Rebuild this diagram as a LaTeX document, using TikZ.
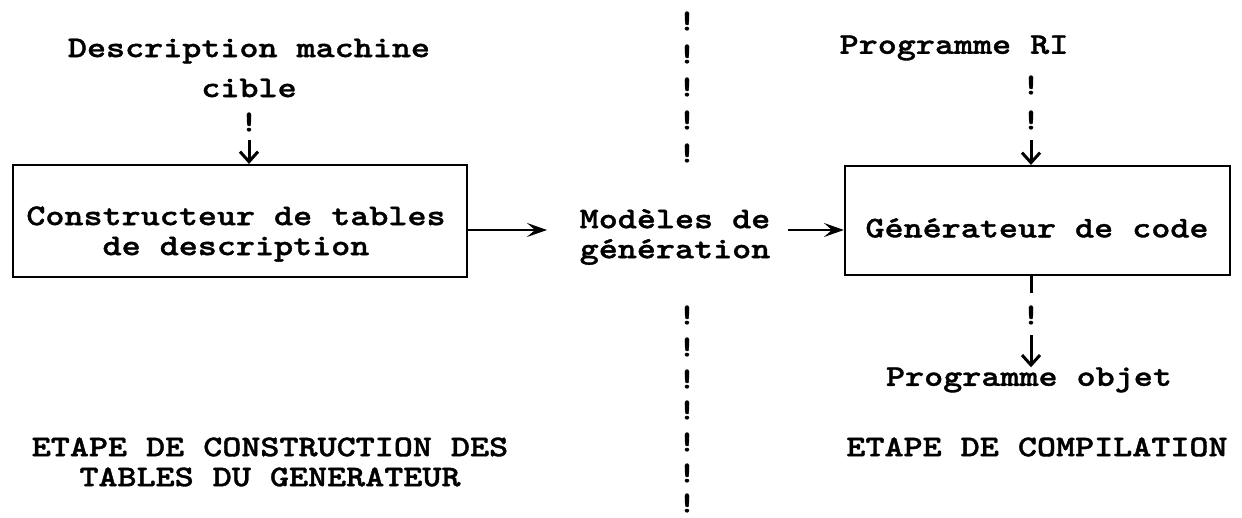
\documentclass[tikz,border=0pt]{standalone}
\usepackage{fontspec}
\newfontfamily\typer{lmmonolt10-bold.otf}[FakeStretch=1.21,FakeBold=1.2]
\usetikzlibrary{arrows.meta}

\begin{document}
\begin{tikzpicture}[x=1pt,y=-1pt,
  txt/.style={font=\typer\fontsize{30}{30}\selectfont, inner sep=0, align=center},
  bang/.style={txt},
  stage/.style={draw, line width=2.2pt, inner sep=0},
  flow/.style={line width=2pt, -{Stealth[length=20pt,width=14pt,inset=8pt]}},
  drop/.style={line width=3pt, -{Straight Barb[length=10pt,width=18pt,line width=3pt]}}]

\useasboundingbox (0,0) rectangle (1242,518);

% processing boxes
\node[stage, minimum width=454, minimum height=112] (ctor) at (240,221) {};
\node[stage, minimum width=385, minimum height=109] (gen) at (1037.5,220.5) {};
\node[txt] at (236,234) {Constructeur de tables\\de description};
\node[txt] at (1037,228) {Générateur de code};

% inputs and outputs
\node[txt] (desc) at (249,68) {Description machine\\[10pt]cible};
\node[txt] (models) at (675,237) {Modèles de\\génération};
\node[txt] (ri) at (954,48) {Programme RI};
\node[txt] (obj) at (1029,380) {Programme objet};

% stage captions
\node[txt] (capA) at (270,462) {ETAPE DE CONSTRUCTION DES\\TABLES DU GENERATEUR};
\node[txt] (capB) at (1037,447) {ETAPE DE COMPILATION};

% description -> constructor
\node[bang] (b1) at (249,122) {!};
\coordinate (t1) at (249,140);
\draw[drop] (t1) -- (ctor.north -| t1);

% program RI -> generator
\node[bang] (b2) at (1031,85) {!};
\node[bang] (b3) at (1031,120) {!};
\coordinate (t2) at (1031,140);
\draw[drop] (t2) -- (gen.north -| t2);

% generator -> object program
\coordinate (s3) at (1031,293);
\draw[line width=3pt] (gen.south -| s3) -- (s3);
\node[bang] (b4) at (1031,315) {!};
\coordinate (t3) at (1031,335);
\draw[drop] (t3) -- (t3 |- obj.north);

% horizontal flow
\coordinate (m1) at (547,230);
\draw[flow] (ctor.east |- m1) -- (m1);
\coordinate (m2) at (788,230);
\draw[flow] (m2) -- (gen.west |- m2);

% separation between the two stages
\foreach \yy in {21,54,87,120,153,315,347,379,410,442,473,503}
  \node[bang] at (687,\yy) {!};
\end{tikzpicture}
\end{document}
